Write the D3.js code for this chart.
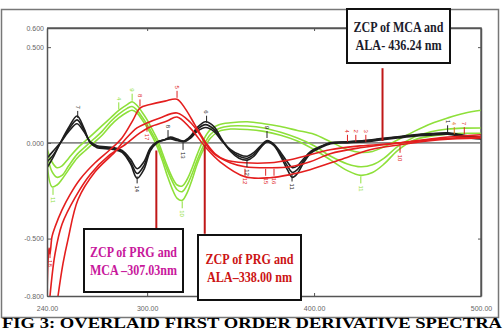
<!DOCTYPE html>
<html>
<head>
<meta charset="utf-8">
<script src="https://cdn.jsdelivr.net/npm/d3@7"></script>
<style>
  body { margin: 0; background: #fff; }
  svg { display: block; }
  .tick text { font-family: "Liberation Sans", Arial, sans-serif; font-size: 7px; fill: #666; }
</style>
</head>
<body>
<div></div>
<script>
// wavelengths (nm) and first derivative values
const blackWl = [240, 244, 248, 253, 258, 262, 266, 270, 275, 280, 285, 290, 294, 298, 302, 306, 310, 314, 318, 322, 326, 330, 335, 340, 345, 350, 355, 360, 364, 368, 372, 376, 380, 384, 387, 390, 394, 398, 404, 410, 420, 430, 440, 450, 460, 470, 480, 490, 500];
const black1 = [-0.10, -0.06, 0.00, 0.07, 0.12, 0.07, 0.00, -0.02, -0.025, -0.03, -0.045, -0.10, -0.16, -0.12, -0.03, 0.005, 0.015, 0.025, 0.015, 0.008, 0.03, 0.07, 0.095, 0.07, 0.01, -0.04, -0.07, -0.08, -0.06, -0.02, 0.01, -0.01, -0.06, -0.12, -0.155, -0.14, -0.09, -0.05, -0.02, 0.00, 0.005, 0.01, 0.02, 0.03, 0.04, 0.045, 0.05, 0.035, 0.025];
const black2 = [-0.13, -0.07, 0.00, 0.08, 0.14, 0.08, 0.00, -0.025, -0.03, -0.035, -0.05, -0.11, -0.185, -0.14, -0.04, 0.00, 0.015, 0.03, 0.02, 0.01, 0.035, 0.08, 0.11, 0.085, 0.015, -0.045, -0.08, -0.09, -0.07, -0.025, 0.005, -0.015, -0.07, -0.14, -0.18, -0.16, -0.10, -0.055, -0.025, -0.005, 0.00, 0.005, 0.015, 0.025, 0.035, 0.04, 0.045, 0.03, 0.02];
const black3 = [-0.08, -0.04, 0.00, 0.06, 0.10, 0.06, 0.005, -0.015, -0.02, -0.025, -0.04, -0.085, -0.135, -0.10, -0.025, 0.005, 0.015, 0.02, 0.012, 0.006, 0.025, 0.06, 0.08, 0.06, 0.008, -0.035, -0.06, -0.07, -0.05, -0.015, 0.012, -0.008, -0.05, -0.10, -0.13, -0.12, -0.08, -0.045, -0.018, 0.00, 0.006, 0.012, 0.022, 0.032, 0.042, 0.048, 0.052, 0.04, 0.03];

const greenWl = [240, 243, 246, 249, 253, 258, 263, 268, 273, 278, 283, 288, 291, 294, 297, 300, 303, 306, 309, 312, 315, 318, 321, 324, 327, 330, 334, 338, 343, 350, 360, 370, 380, 390, 400, 410, 420, 428, 435, 442, 450, 460, 470, 480, 490, 500];
const green1 = [-0.03, -0.10, -0.13, -0.12, -0.08, -0.03, 0.01, 0.05, 0.09, 0.13, 0.17, 0.20, 0.215, 0.195, 0.16, 0.12, 0.07, 0.02, -0.05, -0.12, -0.18, -0.22, -0.225, -0.19, -0.13, -0.06, 0.02, 0.07, 0.095, 0.105, 0.11, 0.10, 0.085, 0.065, 0.045, 0.005, -0.035, -0.05, -0.045, -0.02, 0.015, 0.06, 0.10, 0.13, 0.155, 0.17];
const green2 = [-0.06, -0.15, -0.18, -0.17, -0.12, -0.06, -0.02, 0.02, 0.06, 0.11, 0.15, 0.18, 0.19, 0.17, 0.135, 0.095, 0.05, 0.00, -0.07, -0.14, -0.20, -0.245, -0.255, -0.22, -0.16, -0.09, -0.01, 0.045, 0.075, 0.088, 0.088, 0.078, 0.055, 0.025, -0.015, -0.07, -0.11, -0.125, -0.115, -0.08, -0.02, 0.03, 0.058, 0.072, 0.077, 0.078];
const green3 = [-0.10, -0.23, -0.22, -0.19, -0.14, -0.08, -0.04, 0.00, 0.04, 0.09, 0.13, 0.16, 0.17, 0.155, 0.12, 0.08, 0.035, -0.02, -0.09, -0.17, -0.24, -0.29, -0.30, -0.26, -0.19, -0.11, -0.03, 0.025, 0.06, 0.072, 0.07, 0.06, 0.04, 0.01, -0.035, -0.09, -0.145, -0.17, -0.155, -0.11, -0.04, 0.015, 0.035, 0.045, 0.05, 0.05];

const red1Wl = [240, 240.6, 241.2, 241.8, 243, 244.8, 249, 253.8, 259.8, 268.8, 277.7, 284.9, 291.5, 295.7, 301.7, 310.7, 317.9, 322.7, 328.7, 335.3, 340.7, 346.7, 358.6, 373.6, 385.6, 397.6, 409.6, 427.5, 451.5, 475.5, 500];
const red1 = [-0.80, -0.62, -0.55, -0.58, -0.49, -0.44, -0.35, -0.27, -0.19, -0.104, -0.036, 0.026, 0.119, 0.182, 0.20, 0.218, 0.228, 0.18, 0.093, 0.00, -0.057, -0.088, -0.104, -0.104, -0.088, -0.062, -0.036, -0.016, 0.00, 0.026, 0.042];
const red2Wl = [246.6, 249.6, 252.6, 258.6, 268.8, 280.7, 286.7, 293.9, 299.9, 307.7, 317.9, 325.7, 331.7, 335.3, 340.7, 349.7, 358.6, 373.6, 385.6, 397.6, 409.6, 427.5, 451.5, 475.5, 500];
const red2 = [-0.80, -0.63, -0.504, -0.296, -0.151, -0.047, 0.016, 0.078, 0.104, 0.13, 0.156, 0.109, 0.042, -0.01, -0.062, -0.104, -0.125, -0.13, -0.125, -0.099, -0.057, -0.026, 0.00, 0.021, 0.031];
const red3Wl = [241.8, 244.8, 249, 256.8, 265.8, 277.7, 286.7, 295.7, 301.7, 311.9, 317.9, 325.7, 335.3, 343.7, 358.6, 373.6, 385.6, 397.6, 415.6, 433.5, 451.5, 475.5, 500];
const red3 = [-0.80, -0.58, -0.425, -0.286, -0.166, -0.062, -0.01, 0.052, 0.083, 0.114, 0.135, 0.078, -0.026, -0.099, -0.177, -0.182, -0.166, -0.14, -0.088, -0.036, -0.01, 0.016, 0.026];

// peak labels: wavelength, value, label, colour, 1 = above / -1 = below
const peakMarks = [
  [258.4, 0.125, "7", "#222", 1], [294, -0.17, "14", "#222", -1], [312.5, 0.025, "8", "#222", 1],
  [321.5, 0.005, "13", "#222", -1], [335.6, 0.1, "6", "#222", 1], [359.8, -0.085, "12", "#222", -1],
  [371.8, 0.02, "9", "#222", 1], [386.8, -0.16, "11", "#222", -1], [480, 0.05, "1", "#222", 1],
  [317.9, 0.23, "5", "#e02020", 1], [295.7, 0.185, "8", "#e02020", 1], [299.9, 0.1, "17", "#e02020", -1],
  [358.6, -0.13, "12", "#e02020", -1], [371, -0.13, "15", "#e02020", -1], [376, -0.13, "16", "#e02020", -1],
  [241.8, -0.56, "18", "#e02020", -1], [420, 0.0, "4", "#e02020", 1], [425, 0.0, "2", "#e02020", 1],
  [431, 0.0, "3", "#e02020", 1], [451.5, -0.01, "10", "#e02020", -1], [484, 0.04, "4", "#e07020", 1],
  [490, 0.04, "7", "#e02020", 1],
  [291, 0.215, "9", "#8ee03a", 1], [283, 0.17, "4", "#8ee03a", 1], [321, -0.3, "10", "#8ee03a", -1],
  [243.6, -0.23, "11", "#8ee03a", -1], [428, -0.17, "11", "#8ee03a", -1]
];

const xTicks = [240, 300, 400, 500];
const yTicks = [0.6, 0.5, 0, -0.5, -0.8];

(() => {

const width = 504;
const height = 332;
const plotLeft = 47, plotRight = 481, plotTop = 28, plotBottom = 296;
const serif = "'Liberation Serif', 'Times New Roman', serif";

const svg = d3.select("div").append("svg")
    .attr("width", width)
    .attr("height", height);

const x = d3.scaleLinear().domain([240, 500]).range([plotLeft, plotRight]);
const y = d3.scaleLinear().domain([-0.8, 0.6]).range([plotBottom, plotTop]);

// outer frame
svg.append("rect")
    .attr("x", 1.5).attr("y", 9.5)
    .attr("width", 497).attr("height", 308)
    .attr("fill", "none").attr("stroke", "#777").attr("stroke-width", 1.5);

svg.append("defs").append("clipPath").attr("id", "plot")
  .append("rect")
    .attr("x", plotLeft).attr("y", plotTop)
    .attr("width", plotRight - plotLeft).attr("height", plotBottom - plotTop);

// frame top / right
svg.append("path")
    .attr("d", `M${plotLeft},${plotTop}H${plotRight}V${plotBottom}`)
    .attr("fill", "none").attr("stroke", "#666").attr("stroke-width", 1.5);

// zero line
svg.append("line")
    .attr("x1", plotLeft).attr("x2", plotRight)
    .attr("y1", y(0)).attr("y2", y(0))
    .attr("stroke", "#888").attr("stroke-width", 1.6);

const line = d3.line()
    .x(d => x(d[0]))
    .y(d => y(d[1]))
    .curve(d3.curveCatmullRom.alpha(0.5));

const series = [
  [greenWl, green1, "#8ee03a"], [greenWl, green2, "#8ee03a"], [greenWl, green3, "#8ee03a"],
  [blackWl, black1, "#1e1e1e"], [blackWl, black2, "#1e1e1e"], [blackWl, black3, "#1e1e1e"],
  [red1Wl, red1, "#e41e1e"], [red2Wl, red2, "#e41e1e"], [red3Wl, red3, "#e41e1e"]
];

const curves = svg.append("g").attr("clip-path", "url(#plot)");
series.forEach(s => {
  curves.append("path")
      .datum(d3.zip(s[0], s[1]))
      .attr("d", line)
      .attr("fill", "none")
      .attr("stroke", s[2])
      .attr("stroke-width", 1.6);
});

// small peak pickers
const marks = svg.append("g").selectAll("g")
    .data(peakMarks)
    .join("g")
      .attr("transform", d => `translate(${x(d[0])},${y(d[1])})`);

marks.append("line")
    .attr("y1", d => -d[4] * 1)
    .attr("y2", d => -d[4] * 8)
    .attr("stroke", d => d[3])
    .attr("stroke-width", 1);

marks.append("text")
    .attr("transform", d => `translate(0,${-d[4] * 10}) rotate(90)`)
    .attr("text-anchor", d => d[4] > 0 ? "end" : "start")
    .attr("dy", "0.35em")
    .style("font-family", "'Liberation Sans', Arial, sans-serif")
    .style("font-size", "6px")
    .attr("fill", d => d[3])
    .text(d => d[2]);

// axes
const yAxis = d3.axisLeft(y)
    .tickValues(yTicks)
    .tickFormat(d => d.toFixed(3))
    .tickSizeInner(-4).tickSizeOuter(0).tickPadding(3);

const xAxis = d3.axisBottom(x)
    .tickValues(xTicks)
    .tickFormat(d => d.toFixed(2))
    .tickSizeInner(-3).tickSizeOuter(0).tickPadding(10);

svg.append("g")
    .attr("class", "y_axis")
    .attr("transform", `translate(${plotLeft},0)`)
    .call(yAxis);

svg.append("g")
    .attr("class", "x_axis")
    .attr("transform", `translate(0,${plotBottom})`)
    .call(xAxis);

svg.append("g")
    .attr("transform", `translate(0,${plotTop})`)
    .call(d3.axisTop(x).tickValues([300, 400]).tickFormat("").tickSizeInner(-3).tickSizeOuter(0));

svg.append("g")
    .attr("transform", `translate(${plotRight},0)`)
    .call(d3.axisRight(y).tickValues([0.5, -0.5]).tickFormat("").tickSizeInner(-3).tickSizeOuter(0));

svg.selectAll(".domain").attr("stroke", "#555").attr("stroke-width", 1.5);
svg.selectAll(".tick line").attr("stroke", "#555");

// zero crossing call-outs
const callouts = [
  { lineX: 441, from: 0.39, to: 0.01, box: [347, 9, 103, 54], color: "#1c1c2c", lines: ["ZCP of MCA and", "ALA- 436.24 nm"], w: [90, 86] },
  { lineX: 305.5, from: -0.04, to: -0.445, box: [84, 229, 99, 63], color: "#c8189c", lines: ["ZCP of PRG and", "MCA \u2013307.03nm"], w: [87, 87] },
  { lineX: 334.5, from: -0.01, to: -0.475, box: [198, 235, 103, 65], color: "#cc1414", lines: ["ZCP of PRG and", "ALA\u2013338.00 nm"], w: [88, 85] }
];

callouts.forEach(c => {
  svg.append("line")
      .attr("x1", x(c.lineX)).attr("x2", x(c.lineX))
      .attr("y1", y(c.from)).attr("y2", y(c.to))
      .attr("stroke", "#c01818").attr("stroke-width", 2);
  svg.append("rect")
      .attr("x", c.box[0]).attr("y", c.box[1])
      .attr("width", c.box[2]).attr("height", c.box[3])
      .attr("fill", "#fff").attr("stroke", "#111").attr("stroke-width", 2);
  c.lines.forEach((t, i) => {
    svg.append("text")
        .attr("x", c.box[0] + (c.box[2] - c.w[i]) / 2)
        .attr("y", c.box[1] + c.box[3] / 2 - 4 + i * 18)
        .attr("textLength", c.w[i])
        .attr("lengthAdjust", "spacingAndGlyphs")
        .style("font-family", serif)
        .style("font-weight", "bold")
        .style("font-size", "15px")
        .attr("fill", c.color)
        .text(t);
  });
});

// caption
svg.append("text")
    .attr("x", 2)
    .attr("y", 328)
    .attr("textLength", 500)
    .attr("lengthAdjust", "spacingAndGlyphs")
    .style("font-family", serif)
    .style("font-weight", "bold")
    .style("font-size", "15.5px")
    .attr("fill", "#000")
    .text("FIG 3: OVERLAID FIRST ORDER DERIVATIVE SPECTRA");

})();
</script>
</body>
</html>
